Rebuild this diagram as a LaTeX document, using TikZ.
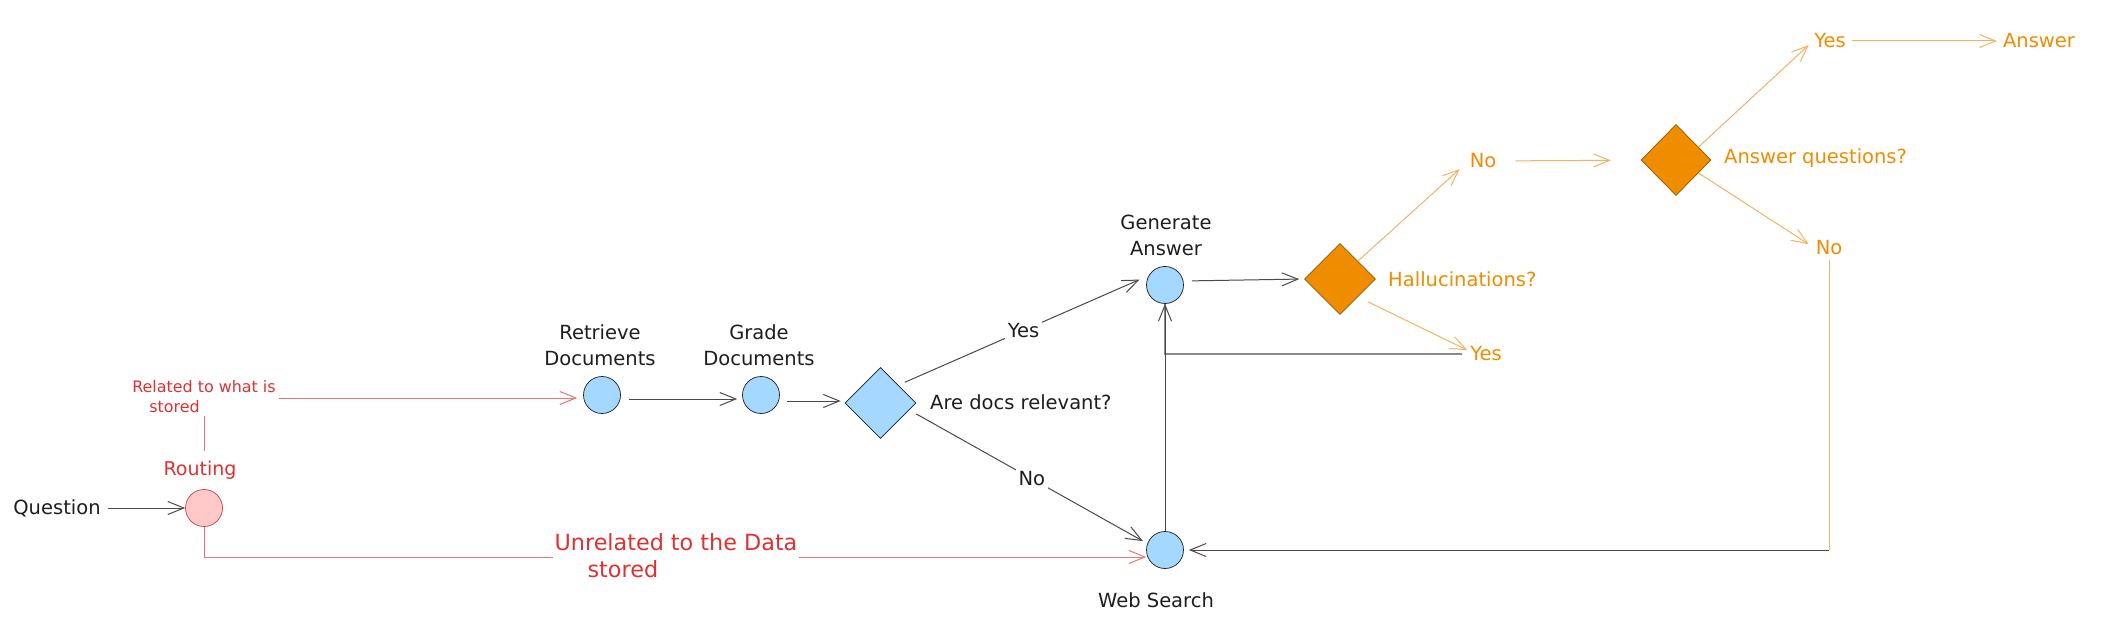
\documentclass[tikz,border=0pt]{standalone}
\usepackage{fontspec}
\setmainfont{DejaVu Sans}
\usetikzlibrary{arrows.meta,shapes.geometric}
\definecolor{ink}{HTML}{1E1E1E}
\definecolor{lblue}{HTML}{A5D8FF}
\definecolor{pinkf}{HTML}{FFC9C9}
\definecolor{pinkd}{HTML}{C94040}
\definecolor{redt}{HTML}{E03131}
\definecolor{redl}{HTML}{E87575}
\definecolor{orng}{HTML}{F08C00}
\definecolor{orngd}{HTML}{8C5A00}
\definecolor{orngl}{HTML}{F3B263}
\definecolor{grayl}{HTML}{4A4A4A}
\definecolor{grayl2}{HTML}{8A8A8A}
\begin{document}
\begin{tikzpicture}[x=1pt,y=-1pt,
  arr/.style={-{Straight Barb[length=16pt,width=13pt]}},
  gl/.style={draw=grayl, line width=1pt},
  gl2/.style={draw=grayl2, line width=1.4pt},
  rl/.style={draw=redl, line width=1pt},
  ol/.style={draw=orngl, line width=1pt},
  circ/.style={circle, minimum size=37pt, inner sep=0pt, line width=0.7pt},
  bluec/.style={circ, fill=lblue, draw=ink},
  dia/.style={diamond, inner sep=0pt, minimum width=71pt, minimum height=71pt, line width=0.7pt},
  lbl/.style={font=\fontsize{19.5}{26}\selectfont, text=ink, align=center, inner sep=1pt},
  olbl/.style={lbl, text=orng},
  rlbl/.style={font=\fontsize{19}{26}\selectfont, text=redt, inner sep=1pt},
  mid/.style={lbl, fill=white, inner sep=3pt}
]
\fill[white] (0,0) rectangle (2107,644);
\useasboundingbox (0,0) rectangle (2107,644);

% main nodes
\node[lbl] (q) at (57,508) {Question};
\node[circ, fill=pinkf, draw=pinkd] (route) at (204,508) {};
\node[bluec] (retr) at (602,395) {};
\node[bluec] (grade) at (761,395) {};
\node[dia, fill=lblue, draw=ink] (rel) at (880.5,403) {};
\node[bluec] (gen) at (1165,285) {};
\node[bluec] (web) at (1165,550) {};
\node[dia, fill=orng, draw=orngd] (hal) at (1340,279) {};
\node[dia, fill=orng, draw=orngd, minimum width=70pt] (aq) at (1676,160) {};

% labels
\node[lbl] (retrl) at (600,345) {Retrieve\\Documents};
\node[lbl] (gradel) at (759,345) {Grade\\Documents};
\node[lbl, anchor=west] (rell) at (929,402) {Are docs relevant?};
\node[lbl] (genl) at (1166,235) {Generate\\Answer};
\node[lbl] (webl) at (1156,600) {Web Search};
\node[olbl, anchor=west] (hall) at (1387,279) {Hallucinations?};
\node[olbl] (no2) at (1483,161) {No};
\node[olbl] (yes2) at (1486,354) {Yes};
\node[olbl, anchor=west] (aql) at (1723,158) {Answer questions?};
\node[olbl] (yes3) at (1830,41) {Yes};
\node[olbl] (answer) at (2039,41) {Answer};
\node[olbl] (no3) at (1829,248) {No};

% red routing connectors
\draw[rl, arr, shorten >=6pt] (route.north) |- ([yshift=-3pt]retr.west);
\draw[rl, arr] (route.south) |- ([yshift=-7pt]web.west);
\node[rlbl, fill=white, inner xsep=3pt, inner ysep=9.5pt] (routel) at (200,470) {Routing};
\node[rlbl, font=\fontsize{15.9}{20}\selectfont, fill=white, align=left, inner sep=3pt] (relst) at (204,397) {Related to what is\\\hspace*{17pt}stored};
\node[rlbl, font=\fontsize{22.3}{27}\selectfont, fill=white, align=left, inner xsep=2pt, inner ysep=4pt] (unrel) at (676,556) {Unrelated to the Data\\\hspace*{33pt}stored};

% black/gray connectors
\draw[gl, arr, shorten <=6pt] (q) -- (route);
\draw[gl, arr, shorten <=8pt, shorten >=5pt] ([yshift=-4pt]retr.east) -- ([yshift=-4pt]grade.west);
\draw[gl, arr, shorten <=7pt, shorten >=4pt] ([yshift=-6pt]grade.east) -- ([yshift=-6pt]grade.east -| rel.west);
\draw[gl, arr, shorten <=7pt, shorten >=10pt] (rel.north east) -- node[mid] (yes1) {Yes} (gen.150);
\draw[gl, arr, shorten >=5pt] ([yshift=-11pt]rel.east) -- node[mid] (no1) {No} (web.160);
\draw[gl, arr, shorten <=8pt, shorten >=5pt] ([yshift=4pt]gen.east) -- (hal.west);
\draw[gl2, shorten <=7pt] (yes2.west) -| (gen.south);
\draw[gl, arr] (web) -- (gen);

% orange connectors
\draw[ol, arr, shorten >=12pt] (hal.north east) -- (no2.west);
\draw[ol, arr, shorten <=18pt, shorten >=30pt] (no2) -- (aq);
\draw[ol, arr, shorten >=6pt] (aq.30) -- (yes3.west);
\draw[ol, arr, shorten <=5pt, shorten >=5pt] (yes3) -- (answer);
\draw[ol, arr, shorten >=7pt] (aq.-30) -- (no3.west);
\draw[ol, arr, shorten <=11pt, shorten >=2pt] (hal.south east) -- (yes2.170);
\draw[ol, shorten <=4pt] (no3.south) -- (no3.south |- web.east);
\draw[gl, arr, shorten >=5pt] (no3.south |- web.east) -- (web.east);
\end{tikzpicture}
\end{document}
